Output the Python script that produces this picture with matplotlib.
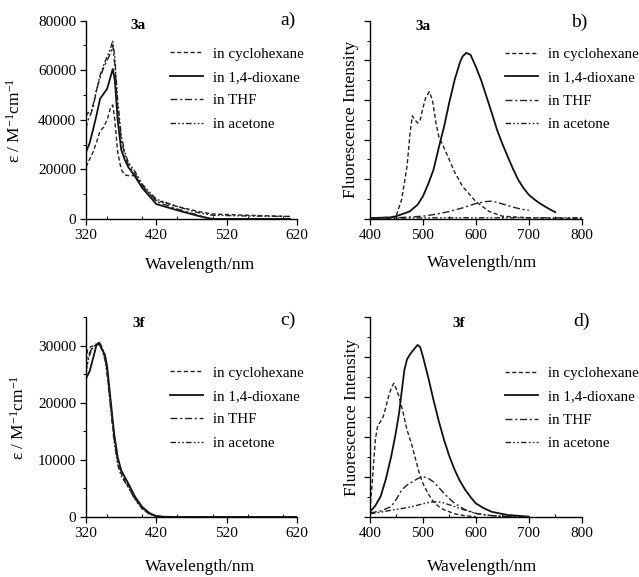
import matplotlib
matplotlib.use('Agg')
import matplotlib.pyplot as plt
from matplotlib.ticker import MultipleLocator, NullFormatter

plt.rcParams['font.family'] = ['Liberation Serif', 'DejaVu Serif']
plt.rcParams['mathtext.fontset'] = 'custom'
plt.rcParams['mathtext.rm'] = 'Liberation Serif'
plt.rcParams['mathtext.it'] = 'Liberation Serif:italic'

solvents = ['in cyclohexane', 'in 1,4-dioxane', 'in THF', 'in acetone']

# ---- 3a absorption (epsilon, M^-1 cm^-1) ----
abs3a_cyc_x = [320, 330, 335, 340, 345, 350, 355, 358, 361, 365, 370, 375, 380, 390, 400, 420, 450, 480, 500, 550, 610]
abs3a_cyc_y = [21000, 27000, 31000, 35500, 37000, 40000, 45000, 46000, 40000, 27000, 20000, 17800, 17500, 17500, 13000, 7500, 5000, 3000, 2000, 1500, 1000]
abs3a_dio_x = [320, 325, 330, 335, 340, 345, 350, 355, 358, 361, 365, 370, 375, 380, 390, 400, 420, 450, 480, 495, 500, 550, 610]
abs3a_dio_y = [27000, 30500, 36000, 42000, 48500, 50500, 52500, 57500, 60500, 56000, 40000, 28000, 24000, 21000, 17000, 12500, 6000, 3500, 1200, 200, 0, 0, 0]
abs3a_thf_x = [320, 322, 325, 330, 335, 340, 345, 350, 355, 358, 361, 365, 370, 375, 380, 390, 400, 420, 450, 480, 495, 500, 550, 610]
abs3a_thf_y = [36000, 39500, 41000, 45000, 52000, 57000, 61000, 64000, 67000, 70000, 62000, 45000, 32000, 26000, 22000, 18000, 13500, 7000, 4000, 1500, 300, 0, 0, 0]
abs3a_ace_x = [320, 323, 326, 330, 335, 340, 345, 350, 355, 358, 361, 365, 370, 375, 380, 390, 400, 420, 450, 480, 500, 550, 610]
abs3a_ace_y = [41500, 43000, 42000, 46000, 52000, 58000, 62000, 65500, 69000, 72000, 65000, 48000, 34000, 27000, 23000, 19000, 14000, 8000, 5000, 2500, 1500, 1200, 1000]

# ---- 3a fluorescence (a.u.) ----
fl3a_cyc_x = [400, 440, 450, 460, 470, 476, 480, 485, 490, 495, 500, 505, 512, 518, 525, 530, 540, 550, 560, 575, 600, 625, 650, 700, 750, 800]
fl3a_cyc_y = [0.03, 0.04, 0.1, 0.5, 1.33, 2.2, 2.6, 2.5, 2.42, 2.5, 2.8, 3.05, 3.21, 3.0, 2.4, 2.08, 1.79, 1.49, 1.18, 0.82, 0.44, 0.19, 0.07, 0.03, 0.02, 0.02]
fl3a_dio_x = [400, 440, 450, 475, 490, 500, 510, 520, 530, 540, 550, 560, 570, 575, 582, 590, 600, 610, 620, 630, 640, 650, 660, 670, 680, 690, 700, 710, 720, 735, 750]
fl3a_dio_y = [0.02, 0.04, 0.07, 0.19, 0.36, 0.57, 0.88, 1.24, 1.8, 2.33, 2.95, 3.51, 3.95, 4.1, 4.19, 4.14, 3.84, 3.5, 3.09, 2.68, 2.25, 1.9, 1.58, 1.27, 0.99, 0.78, 0.61, 0.5, 0.4, 0.28, 0.17]
fl3a_thf_x = [400, 450, 500, 525, 550, 575, 600, 620, 630, 640, 655, 670, 685, 700]
fl3a_thf_y = [0.02, 0.03, 0.07, 0.12, 0.19, 0.28, 0.39, 0.44, 0.45, 0.42, 0.36, 0.3, 0.25, 0.22]
fl3a_ace_x = [400, 450, 500, 550, 600, 650, 700, 750, 800]
fl3a_ace_y = [0.02, 0.02, 0.03, 0.03, 0.03, 0.03, 0.03, 0.03, 0.03]

# ---- 3f absorption ----
abs3f_cyc_x = [320, 322, 326, 330, 334, 338, 342, 347, 350, 355, 360, 365, 370, 380, 390, 400, 410, 420, 430, 450, 620]
abs3f_cyc_y = [27500, 29200, 29800, 30000, 30300, 30200, 29500, 28000, 25500, 19500, 13800, 9800, 7600, 5300, 3100, 1500, 500, 120, 30, 0, 0]
abs3f_dio_x = [320, 325, 330, 335, 338, 342, 347, 350, 355, 360, 365, 370, 380, 390, 400, 410, 420, 430, 450, 620]
abs3f_dio_y = [24300, 25500, 27800, 30200, 30500, 29600, 28400, 26400, 20500, 14600, 10500, 8200, 5900, 3500, 1760, 700, 180, 50, 0, 0]
abs3f_thf_x = [320, 324, 328, 332, 336, 339, 343, 347, 350, 355, 360, 365, 370, 380, 390, 400, 410, 420, 430, 450, 620]
abs3f_thf_y = [26000, 28500, 29500, 30000, 30400, 30600, 29800, 28200, 26000, 20000, 14200, 10200, 8000, 5700, 3300, 1600, 600, 150, 40, 0, 0]
abs3f_ace_x = [320, 324, 328, 332, 336, 339, 343, 347, 350, 355, 360, 365, 370, 380, 390, 400, 410, 420, 430, 450, 620]
abs3f_ace_y = [25500, 28000, 29300, 30000, 30300, 30400, 29300, 27500, 25000, 19000, 13200, 9200, 7200, 5200, 3000, 1400, 500, 120, 30, 0, 0]

# ---- 3f fluorescence ----
fl3f_cyc_x = [400, 402, 405, 410, 414, 418, 425, 430, 435, 440, 445, 450, 455, 462, 470, 478, 485, 492, 500, 510, 520, 530, 540, 560, 580, 600]
fl3f_cyc_y = [0.18, 0.5, 1.0, 1.93, 2.25, 2.35, 2.51, 2.75, 3.01, 3.22, 3.35, 3.2, 3.01, 2.65, 2.18, 1.85, 1.51, 1.15, 0.84, 0.58, 0.38, 0.26, 0.18, 0.08, 0.03, 0.01]
fl3f_dio_x = [400, 410, 420, 430, 440, 448, 455, 460, 465, 470, 475, 480, 490, 495, 500, 510, 520, 530, 540, 550, 560, 570, 580, 590, 600, 615, 630, 660, 700]
fl3f_dio_y = [0.13, 0.28, 0.51, 0.95, 1.51, 2.05, 2.6, 3.15, 3.68, 3.95, 4.06, 4.15, 4.31, 4.25, 4.02, 3.5, 2.93, 2.4, 1.93, 1.52, 1.18, 0.9, 0.68, 0.5, 0.34, 0.22, 0.13, 0.05, 0.01]
fl3f_thf_x = [400, 420, 440, 450, 460, 470, 480, 490, 500, 510, 520, 530, 540, 550, 560, 580, 600, 620, 640, 700]
fl3f_thf_y = [0.1, 0.15, 0.26, 0.45, 0.68, 0.8, 0.88, 0.96, 1.01, 0.97, 0.88, 0.74, 0.59, 0.46, 0.34, 0.18, 0.09, 0.05, 0.02, 0.0]
fl3f_ace_x = [400, 420, 440, 460, 480, 500, 510, 520, 530, 540, 560, 580, 600, 625, 650, 700]
fl3f_ace_y = [0.08, 0.12, 0.17, 0.21, 0.26, 0.33, 0.36, 0.38, 0.38, 0.35, 0.26, 0.17, 0.09, 0.04, 0.02, 0.0]

# line style per solvent
styles = [
    dict(color='#222222', lw=1.0, ls=(0, (3, 1.8))),
    dict(color='#111111', lw=1.3, ls='-'),
    dict(color='#222222', lw=1.0, ls=(0, (5, 2, 1.5, 2))),
    dict(color='#222222', lw=1.0, ls=(0, (4, 1.6, 1.2, 1.6, 1.2, 1.6))),
]

fig = plt.figure(figsize=(6.39, 5.77), dpi=100)
ax_a = fig.add_axes([0.1346, 0.6205, 0.3302, 0.3436])
ax_b = fig.add_axes([0.5790, 0.6205, 0.3313, 0.3436])
ax_c = fig.add_axes([0.1346, 0.1040, 0.3302, 0.3460])
ax_d = fig.add_axes([0.5790, 0.1040, 0.3313, 0.3460])


def style_axes(ax):
    for s in ['top', 'right']:
        ax.spines[s].set_visible(False)
    ax.spines['left'].set_linewidth(1.0)
    ax.spines['bottom'].set_linewidth(1.0)
    ax.tick_params(which='major', direction='out', length=4, width=0.9, labelsize=11, pad=3)
    ax.tick_params(which='minor', direction='out', length=2.5, width=0.7)
    ax.tick_params(axis='x', which='minor', direction='in', length=2.5)


def add_legend(ax, x0, y0):
    ax.legend(loc='upper left', bbox_to_anchor=(x0, y0), frameon=False, fontsize=10.8,
              handlelength=2.2, handletextpad=0.65, labelspacing=0.66,
              borderpad=0, borderaxespad=0)


# a) absorption 3a
for xs, ys, lab, st in zip([abs3a_cyc_x, abs3a_dio_x, abs3a_thf_x, abs3a_ace_x],
                           [abs3a_cyc_y, abs3a_dio_y, abs3a_thf_y, abs3a_ace_y], solvents, styles):
    ax_a.plot(xs, ys, label=lab, **st)
ax_a.set_xlim(320, 620)
ax_a.set_ylim(0, 80000)
ax_a.set_xticks([320, 420, 520, 620])
ax_a.xaxis.set_minor_locator(MultipleLocator(50))
ax_a.yaxis.set_major_locator(MultipleLocator(20000))
ax_a.yaxis.set_minor_locator(MultipleLocator(10000))
style_axes(ax_a)
ax_a.set_ylabel(r'ε / M$^{-1}$cm$^{-1}$', fontsize=12.5)
ax_a.yaxis.set_label_coords(-0.294, 0.5)
ax_a.set_xlabel('Wavelength/nm', fontsize=12.5)
ax_a.xaxis.set_label_coords(0.54, -0.19)
ax_a.text(0.246, 0.978, '3a', transform=ax_a.transAxes, fontsize=11, fontweight='bold', ha='center', va='center')
ax_a.text(0.957, 1.0, 'a)', transform=ax_a.transAxes, fontsize=14, ha='center', va='center')
add_legend(ax_a, 0.398, 0.867)

# b) fluorescence 3a
for xs, ys, lab, st in zip([fl3a_cyc_x, fl3a_dio_x, fl3a_thf_x, fl3a_ace_x],
                           [fl3a_cyc_y, fl3a_dio_y, fl3a_thf_y, fl3a_ace_y], solvents, styles):
    ax_b.plot(xs, ys, label=lab, **st)
ax_b.set_xlim(400, 800)
ax_b.set_ylim(0, 5)
ax_b.xaxis.set_major_locator(MultipleLocator(100))
ax_b.xaxis.set_minor_locator(MultipleLocator(50))
ax_b.yaxis.set_major_locator(MultipleLocator(1))
ax_b.yaxis.set_minor_locator(MultipleLocator(0.5))
ax_b.yaxis.set_major_formatter(NullFormatter())
style_axes(ax_b)
ax_b.set_ylabel('Fluorescence Intensity', fontsize=12.5)
ax_b.yaxis.set_label_coords(-0.052, 0.5)
ax_b.set_xlabel('Wavelength/nm', fontsize=12.5)
ax_b.xaxis.set_label_coords(0.528, -0.18)
ax_b.text(0.25, 0.972, '3a', transform=ax_b.transAxes, fontsize=11, fontweight='bold', ha='center', va='center')
ax_b.text(0.99, 0.99, 'b)', transform=ax_b.transAxes, fontsize=14, ha='center', va='center')
add_legend(ax_b, 0.638, 0.865)

# c) absorption 3f
for xs, ys, lab, st in zip([abs3f_cyc_x, abs3f_dio_x, abs3f_thf_x, abs3f_ace_x],
                           [abs3f_cyc_y, abs3f_dio_y, abs3f_thf_y, abs3f_ace_y], solvents, styles):
    ax_c.plot(xs, ys, label=lab, **st)
ax_c.set_xlim(320, 620)
ax_c.set_ylim(0, 35000)
ax_c.set_xticks([320, 420, 520, 620])
ax_c.xaxis.set_minor_locator(MultipleLocator(50))
ax_c.yaxis.set_major_locator(MultipleLocator(10000))
ax_c.yaxis.set_minor_locator(MultipleLocator(5000))
style_axes(ax_c)
ax_c.set_ylabel(r'ε / M$^{-1}$cm$^{-1}$', fontsize=12.5)
ax_c.yaxis.set_label_coords(-0.277, 0.5)
ax_c.set_xlabel('Wavelength/nm', fontsize=12.5)
ax_c.xaxis.set_label_coords(0.54, -0.21)
ax_c.text(0.251, 0.97, '3f', transform=ax_c.transAxes, fontsize=11, fontweight='bold', ha='center', va='center')
ax_c.text(0.957, 0.986, 'c)', transform=ax_c.transAxes, fontsize=14, ha='center', va='center')
add_legend(ax_c, 0.398, 0.756)

# d) fluorescence 3f
for xs, ys, lab, st in zip([fl3f_cyc_x, fl3f_dio_x, fl3f_thf_x, fl3f_ace_x],
                           [fl3f_cyc_y, fl3f_dio_y, fl3f_thf_y, fl3f_ace_y], solvents, styles):
    ax_d.plot(xs, ys, label=lab, **st)
ax_d.set_xlim(400, 800)
ax_d.set_ylim(0, 5)
ax_d.xaxis.set_major_locator(MultipleLocator(100))
ax_d.xaxis.set_minor_locator(MultipleLocator(50))
ax_d.yaxis.set_major_locator(MultipleLocator(1))
ax_d.yaxis.set_minor_locator(MultipleLocator(0.5))
ax_d.yaxis.set_major_formatter(NullFormatter())
style_axes(ax_d)
ax_d.set_ylabel('Fluorescence Intensity', fontsize=12.5)
ax_d.yaxis.set_label_coords(-0.047, 0.5)
ax_d.set_xlabel('Wavelength/nm', fontsize=12.5)
ax_d.xaxis.set_label_coords(0.528, -0.21)
ax_d.text(0.42, 0.97, '3f', transform=ax_d.transAxes, fontsize=11, fontweight='bold', ha='center', va='center')
ax_d.text(1.0, 0.98, 'd)', transform=ax_d.transAxes, fontsize=14, ha='center', va='center')
add_legend(ax_d, 0.638, 0.754)

fig.savefig('out.png', dpi=100)
